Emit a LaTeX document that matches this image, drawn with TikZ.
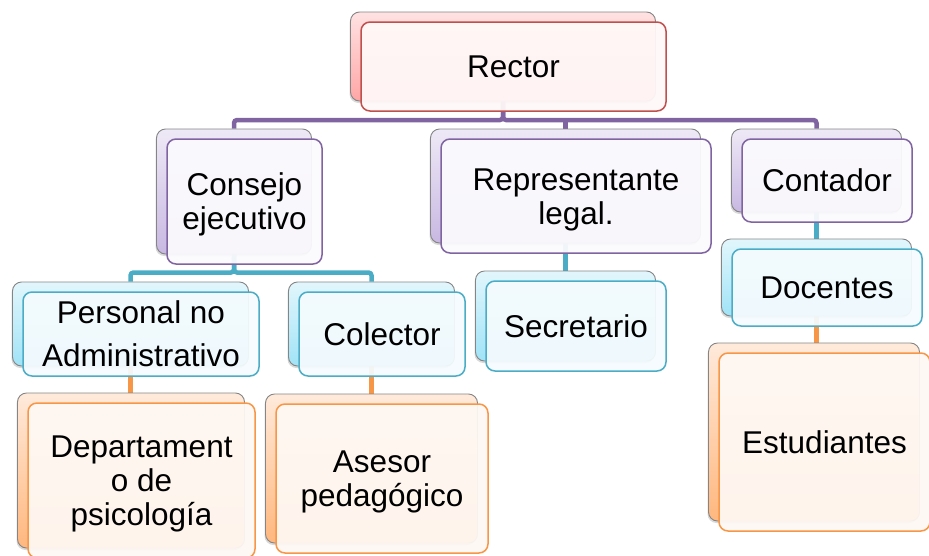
\documentclass[tikz,border=0pt]{standalone}
\usepackage{fontspec}
\setmainfont{Liberation Sans}
\usetikzlibrary{backgrounds,shadows,calc}
\definecolor{redA}{HTML}{C0504D}
\definecolor{redT}{HTML}{FFE2E2}
\definecolor{redB}{HTML}{FFA6A6}
\definecolor{redF}{HTML}{FFF8F8}
\definecolor{purA}{HTML}{8064A2}
\definecolor{purT}{HTML}{EEE9F6}
\definecolor{purB}{HTML}{C8B8E2}
\definecolor{purF}{HTML}{FBFAFD}
\definecolor{tealA}{HTML}{4BACC6}
\definecolor{tealT}{HTML}{E2F6FC}
\definecolor{tealB}{HTML}{A0E3F7}
\definecolor{tealF}{HTML}{F4FBFE}
\definecolor{oraA}{HTML}{F79646}
\definecolor{oraT}{HTML}{FFEADB}
\definecolor{oraB}{HTML}{FFB77E}
\definecolor{oraF}{HTML}{FEF8F3}
\definecolor{backline}{HTML}{858585}
\newcommand\orgunit[8]{%
  \node[backbox=#6, minimum width=#4, minimum height=#5] (#1-b) at ({#2-10.5},{#3-10}) {};
  \node[frontbox=#6, minimum width=#4, minimum height=#5, #8] (#1) at (#2,#3) {#7};
}
\newcommand\firstup{\rule{0pt}{29pt}}
\begin{document}
\begin{tikzpicture}[x=1pt,y=-1pt,
  backbox/.style={draw=backline, line width=0.9pt, rounded corners=9pt,
    top color=#1T, bottom color=#1B,
    drop shadow={shadow xshift=-1pt, shadow yshift=-2pt, opacity=0.3}},
  frontbox/.style={draw=#1A, line width=1.5pt, rounded corners=9pt,
    fill=#1F, fill opacity=0.94, text opacity=1, inner sep=0pt,
    align=center, font=\fontsize{31.5}{34}\selectfont},
  conn/.style={line width=4.5pt, rounded corners=3pt, draw=#1}
]
\useasboundingbox (0,0) rectangle (929,555);
\clip (0,0) rectangle (929,555);

\orgunit{rector}{513.5}{66.5}{305}{89}{red}{Rector}{}
\orgunit{consejo}{244.5}{201.5}{155}{125}{pur}{\firstup Consejo\\ejecutivo}{}
\orgunit{repr}{576}{196}{270}{114}{pur}{\firstup Representante\\legal.}{}
\orgunit{contador}{827}{180.5}{170}{83}{pur}{Contador}{}
\orgunit{personal}{141}{334}{236}{84}{teal}{Personal no\\[9pt]Administrativo}{}
\orgunit{colector}{382}{334}{166}{84}{teal}{Colector}{}
\orgunit{secretario}{576}{326}{180}{90}{teal}{Secretario}{}
\orgunit{docentes}{827}{287.5}{190}{77}{teal}{Docentes}{}
\orgunit{depto}{141.5}{480.5}{227}{155}{ora}{\firstup Departament\\o de\\psicología}{}
\orgunit{asesor}{382}{478.5}{212}{149}{ora}{\firstup Asesor\\pedagógico}{}
\orgunit{estud}{824.5}{442}{211}{178}{ora}{Estudiantes}{}

\coordinate (busA) at (0,120);
\coordinate (busB) at (0,272.5);

\begin{scope}[on background layer]
  \draw[conn=purA] (rector-b.south) |- (consejo-b.north |- busA) -- (consejo-b.north);
  \draw[conn=purA] (rector-b.south) |- (contador-b.north |- busA) -- (contador-b.north);
  \draw[conn=purA] (repr-b.north |- busA) -- (repr-b.north);
  \draw[conn=tealA] (consejo-b.south) |- (personal-b.north |- busB) -- (personal-b.north);
  \draw[conn=tealA] (consejo-b.south) |- (colector-b.north |- busB) -- (colector-b.north);
  \draw[conn=tealA] (repr-b.south) -- (repr-b.south |- secretario-b.north);
  \draw[conn=tealA] (contador-b.south) -- (contador-b.south |- docentes-b.north);
  \draw[conn=oraA] (personal-b.south) -- (personal-b.south |- depto-b.north);
  \draw[conn=oraA] (colector-b.south) -- (colector-b.south |- asesor-b.north);
  \draw[conn=oraA] (docentes-b.south) -- (docentes-b.south |- estud-b.north);
\end{scope}
\end{tikzpicture}
\end{document}
